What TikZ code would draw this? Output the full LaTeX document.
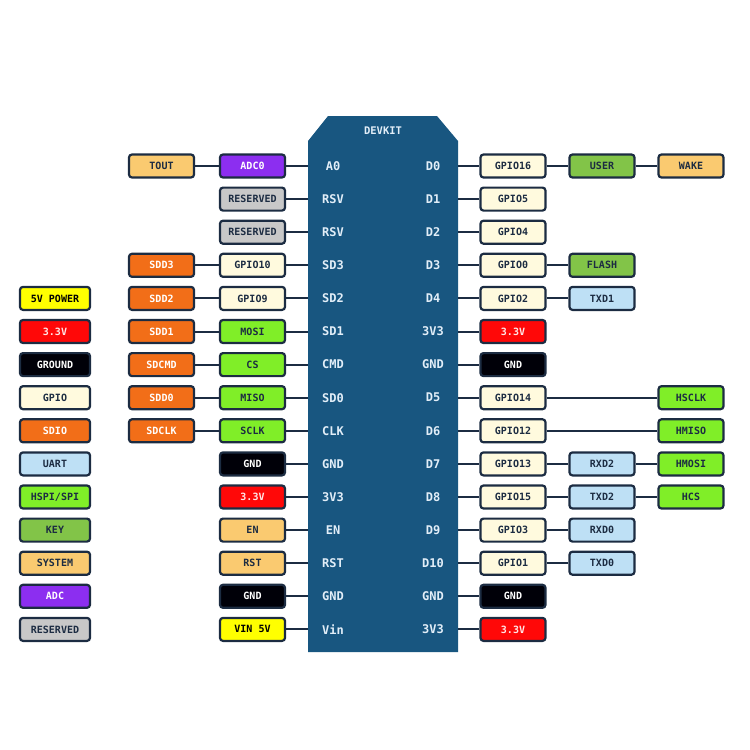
\documentclass[tikz,border=0pt]{standalone}
\usepackage{fontspec}
\newfontfamily\pinfont{DejaVu Sans Mono}
\usepackage{xcolor}
\definecolor{pinnavy}{RGB}{28,44,66}
\definecolor{boardblue}{RGB}{24,86,128}
\definecolor{boardtext}{RGB}{226,238,248}
\definecolor{cfive}{RGB}{255,255,0}
\definecolor{cthree}{RGB}{255,8,8}
\definecolor{cgnd}{RGB}{0,0,8}
\definecolor{cgpio}{RGB}{255,250,222}
\definecolor{csdio}{RGB}{242,110,24}
\definecolor{cuart}{RGB}{190,224,245}
\definecolor{chspi}{RGB}{128,238,40}
\definecolor{ckey}{RGB}{130,196,72}
\definecolor{csys}{RGB}{250,202,112}
\definecolor{cadc}{RGB}{140,46,240}
\definecolor{cres}{RGB}{200,200,200}
\usetikzlibrary{positioning}

\begin{document}
\begin{tikzpicture}[x=1pt, y=-1pt,
  pin/.style={draw=pinnavy, line width=2.2pt, rounded corners=3pt,
              minimum width=65pt, minimum height=23pt, inner sep=0pt,
              font=\pinfont\bfseries\fontsize{10}{10}\selectfont},
  legend/.style={pin, minimum width=70pt},
  fivev/.style={fill=cfive, text=black},
  threev/.style={fill=cthree, text=white!90!red},
  gnd/.style={fill=cgnd, text=white},
  gpio/.style={fill=cgpio, text=pinnavy},
  sdio/.style={fill=csdio, text=white},
  uart/.style={fill=cuart, text=pinnavy},
  hspi/.style={fill=chspi, text=pinnavy},
  keyc/.style={fill=ckey, text=pinnavy},
  sysc/.style={fill=csys, text=pinnavy},
  adc/.style={fill=cadc, text=white},
  resv/.style={fill=cres, text=pinnavy},
  wire/.style={draw=pinnavy, line width=2pt},
  boardtxt/.style={text=boardtext, inner sep=0pt,
                   font=\pinfont\bfseries\fontsize{12}{12}\selectfont}]
  \useasboundingbox (0,0) rectangle (750,750);

  % Board -- DEVKIT
  \fill[boardblue] (308,652) -- (308,141) -- (328,116) -- (437,116)
       -- (458,141) -- (458,652) -- cycle;
  \node[inner sep=0pt, minimum width=150pt, minimum height=536pt] (board) at (383,384) {};
  \node[boardtxt, font=\pinfont\bfseries\fontsize{10.5}{11}\selectfont] (devkit) at (383,131) {DEVKIT};

  % Pin names on the board
  \foreach \a/\b [count=\i from 0] in {A0/D0, RSV/D1, RSV/D2, SD3/D3, SD2/D4,
      SD1/3V3, CMD/GND, SD0/D5, CLK/D6, GND/D7, 3V3/D8, EN/D9, RST/D10,
      GND/GND, Vin/3V3} {
    \node[boardtxt] (bl-\i) at (333,166+33.1*\i) {\a};
    \node[boardtxt] (br-\i) at (433,166+33.1*\i) {\b};
  }

  % Legend
  \foreach \t/\s [count=\i from 4] in {5V POWER/fivev, 3.3V/threev, GROUND/gnd,
      GPIO/gpio, SDIO/sdio, UART/uart, {HSPI/SPI}/hspi, KEY/keyc, SYSTEM/sysc,
      ADC/adc, RESERVED/resv}
    \node[legend, \s] (leg-\i) at (55,166+33.1*\i) {\t};

  % Left side, next to the board
  \foreach \t/\s [count=\i from 0] in {ADC0/adc, RESERVED/resv, RESERVED/resv,
      GPIO10/gpio, GPIO9/gpio, MOSI/hspi, CS/hspi, MISO/hspi, SCLK/hspi,
      GND/gnd, 3.3V/threev, EN/sysc, RST/sysc, GND/gnd, VIN 5V/fivev} {
    \node[pin, \s] (la-\i) at (252.5,166+33.1*\i) {\t};
    \draw[wire] (la-\i.east) -- (la-\i.east -| board.west);
  }

  % Left side, outer column
  \foreach \t/\s/\i in {TOUT/sysc/0, SDD3/sdio/3, SDD2/sdio/4, SDD1/sdio/5,
      SDCMD/sdio/6, SDD0/sdio/7, SDCLK/sdio/8} {
    \node[pin, \s] (lb-\i) at (161.5,166+33.1*\i) {\t};
    \draw[wire] (lb-\i.east) -- (la-\i.west);
  }

  % Right side, next to the board
  \foreach \t/\s [count=\i from 0] in {GPIO16/gpio, GPIO5/gpio, GPIO4/gpio,
      GPIO0/gpio, GPIO2/gpio, 3.3V/threev, GND/gnd, GPIO14/gpio, GPIO12/gpio,
      GPIO13/gpio, GPIO15/gpio, GPIO3/gpio, GPIO1/gpio, GND/gnd, 3.3V/threev} {
    \node[pin, \s] (ra-\i) at (513,166+33.1*\i) {\t};
    \draw[wire] (ra-\i.west -| board.east) -- (ra-\i.west);
  }

  % Right side, second column
  \foreach \t/\s/\i in {USER/keyc/0, FLASH/keyc/3, TXD1/uart/4, RXD2/uart/9,
      TXD2/uart/10, RXD0/uart/11, TXD0/uart/12} {
    \node[pin, \s] (rb-\i) at (602,166+33.1*\i) {\t};
    \draw[wire] (ra-\i.east) -- (rb-\i.west);
  }

  % Right side, outer column
  \foreach \t/\s/\i in {WAKE/sysc/0, HMOSI/hspi/9, HCS/hspi/10} {
    \node[pin, \s] (rc-\i) at (691,166+33.1*\i) {\t};
    \draw[wire] (rb-\i.east) -- (rc-\i.west);
  }
  \foreach \t/\i in {HSCLK/7, HMISO/8} {
    \node[pin, hspi] (rc-\i) at (691,166+33.1*\i) {\t};
    \draw[wire] (ra-\i.east) -- (rc-\i.west);
  }
\end{tikzpicture}
\end{document}
